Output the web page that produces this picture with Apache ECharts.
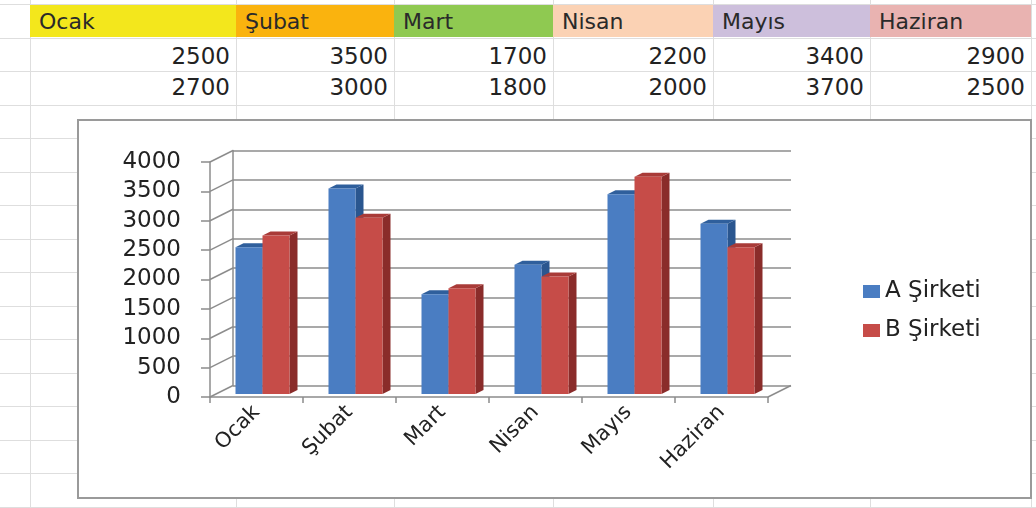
<!DOCTYPE html>
<html>
<head>
<meta charset="utf-8">
<script src="https://cdn.jsdelivr.net/npm/echarts@6/dist/echarts.min.js"></script>
<style>
    body { margin: 0; background: #fff; font-family: "DejaVu Sans", sans-serif; }
    #sheet { position: absolute; left: 0; top: 0; width: 1036px; height: 508px; overflow: hidden; }
    .hline { position: absolute; left: 0; width: 1036px; height: 1px; background: #dedede; }
    .vline { position: absolute; top: 0; width: 1px; height: 508px; background: #dedede; }
    .head { position: absolute; top: 5px; height: 32px; line-height: 33px; font-size: 22px; color: #2a2a2a; padding-left: 9px; box-sizing: border-box; }
    .num { position: absolute; height: 32px; line-height: 32px; font-size: 23px; color: #222; text-align: right; padding-right: 6px; box-sizing: border-box; }
    #box { position: absolute; left: 77px; top: 119px; width: 951px; height: 376px; background: #fff; border: 2px solid #9a9a9a; }
    #main { position: absolute; left: 0; top: 0; width: 1036px; height: 508px; }
</style>
</head>
<body>
<div id="sheet"></div>
<div id="box"></div>
<div id="main"></div>
<script>
// 数据
const months = ['Ocak', 'Şubat', 'Mart', 'Nisan', 'Mayıs', 'Haziran'];
const companyA = [2500, 3500, 1700, 2200, 3400, 2900];
const companyB = [2700, 3000, 1800, 2000, 3700, 2500];
const seriesNames = ['A Şirketi', 'B Şirketi'];
const yTicks = [0, 500, 1000, 1500, 2000, 2500, 3000, 3500, 4000];
const headColors = ['#f3e71c', '#fab30e', '#8fc951', '#fbd2b4', '#cdbfdc', '#e9b3b1'];

/**
 * 表格背景
 */
function buildSheet() {
    const sheet = document.getElementById('sheet');
    const colX = [30, 236, 394, 553, 713, 870, 1031];
    let html = '';
    for (let y = 4; y < 508; y += 33.5) {
        html += `<div class="hline" style="top:${Math.round(y)}px"></div>`;
    }
    colX.forEach(x => {
        html += `<div class="vline" style="left:${x}px"></div>`;
    });
    months.forEach((m, i) => {
        const l = colX[i], w = colX[i + 1] - colX[i];
        html += `<div class="head" style="left:${l}px;width:${w}px;background:${headColors[i]}">${m}</div>`;
        html += `<div class="num" style="left:${l}px;width:${w}px;top:40px">${companyA[i]}</div>`;
        html += `<div class="num" style="left:${l}px;width:${w}px;top:71px">${companyB[i]}</div>`;
    });
    sheet.innerHTML = html;
}
buildSheet();

const chart = echarts.init(document.getElementById('main'), null, { renderer: 'canvas' });

// 透视偏移
const wallDx = 23, wallDy = -11.5;
const barW = 27, barDx = 8, barDy = -4, barShiftX = 6, barShiftY = -3;

const faceColors = [
    { front: '#4a7dc2', top: '#2f5f9c', side: '#2a568f' },
    { front: '#c64c48', top: '#a93b38', side: '#8a2c2a' }
];

function barRenderer(idx) {
    return function (params, api) {
        const c = api.coord([api.value(0), api.value(1)]);
        const base = api.coord([api.value(0), 0]);
        const x0 = c[0] + barShiftX - barW + idx * barW;
        const yTop = c[1] + barShiftY;
        const yBot = base[1] + barShiftY;
        const col = faceColors[idx];
        return {
            type: 'group',
            children: [
                {
                    type: 'polygon',
                    shape: { points: [[x0 + barW, yTop], [x0 + barW + barDx, yTop + barDy], [x0 + barW + barDx, yBot + barDy], [x0 + barW, yBot]] },
                    style: { fill: col.side }
                },
                {
                    type: 'polygon',
                    shape: { points: [[x0, yTop], [x0 + barW, yTop], [x0 + barW + barDx, yTop + barDy], [x0 + barDx, yTop + barDy]] },
                    style: { fill: col.top }
                },
                {
                    type: 'rect',
                    shape: { x: x0, y: yTop, width: barW, height: yBot - yTop },
                    style: { fill: col.front }
                }
            ]
        };
    };
}

// 左侧墙与地板斜线
function wallRenderer(params, api) {
    const p = api.coord([0, api.value(1)]);
    const band = api.size([1, 0])[0];
    const xl = p[0] - band / 2;
    const children = [{
        type: 'line',
        shape: { x1: xl, y1: p[1], x2: xl + wallDx, y2: p[1] + wallDy },
        style: { stroke: '#8c8c8c', lineWidth: 1.5 }
    }];
    if (api.value(1) === 0) {
        const q = api.coord([months.length - 1, 0]);
        const xr = q[0] + band / 2;
        children.push({
            type: 'line',
            shape: { x1: xr, y1: q[1], x2: xr + wallDx, y2: q[1] + wallDy },
            style: { stroke: '#8c8c8c', lineWidth: 1.5 }
        });
    }
    return { type: 'group', children };
}

const option = {
    backgroundColor: 'transparent',
    animation: false,
    grid: [
        { left: 210, right: 268, top: 162, bottom: 111 },
        { left: 233, right: 245, top: 150.5, bottom: 122.5 }
    ],
    legend: {
        orient: 'vertical',
        left: 858,
        top: 275,
        itemWidth: 17,
        itemHeight: 13,
        itemGap: 16,
        icon: 'rect',
        data: seriesNames,
        textStyle: { fontSize: 23, color: '#222', fontFamily: 'DejaVu Sans' }
    },
    xAxis: [
        {
            type: 'category',
            gridIndex: 0,
            data: months,
            axisLine: { lineStyle: { color: '#8c8c8c', width: 1.5 } },
            axisTick: { show: true, length: 6, lineStyle: { color: '#8c8c8c', width: 1.5 } },
            axisLabel: { rotate: 45, fontSize: 21, color: '#222', margin: 12, fontFamily: 'DejaVu Sans' }
        },
        {
            type: 'category',
            gridIndex: 1,
            data: months,
            show: false
        }
    ],
    yAxis: [
        {
            type: 'value',
            gridIndex: 0,
            min: 0,
            max: 4000,
            interval: 500,
            axisLine: { show: true, lineStyle: { color: '#8c8c8c', width: 1.5 } },
            axisTick: { show: true, length: 9, lineStyle: { color: '#8c8c8c', width: 1.5 } },
            axisLabel: {
                fontSize: 23,
                color: '#222',
                margin: 29,
                fontFamily: 'DejaVu Sans',
                formatter: v => String(v)
            },
            splitLine: { show: false }
        },
        {
            type: 'value',
            gridIndex: 1,
            min: 0,
            max: 4000,
            interval: 500,
            axisLine: { show: true, lineStyle: { color: '#8c8c8c', width: 1.5 } },
            axisTick: { show: false },
            axisLabel: { show: false },
            splitLine: { show: true, lineStyle: { color: '#8c8c8c', width: 1.5 } }
        }
    ],
    series: [
        {
            type: 'custom',
            name: 'wall',
            xAxisIndex: 0,
            yAxisIndex: 0,
            silent: true,
            renderItem: wallRenderer,
            data: yTicks.map(v => [0, v])
        },
        {
            type: 'custom',
            name: seriesNames[0],
            xAxisIndex: 0,
            yAxisIndex: 0,
            itemStyle: { color: faceColors[0].front },
            renderItem: barRenderer(0),
            encode: { x: 0, y: 1 },
            data: companyA.map((v, i) => [i, v])
        },
        {
            type: 'custom',
            name: seriesNames[1],
            xAxisIndex: 0,
            yAxisIndex: 0,
            itemStyle: { color: faceColors[1].front },
            renderItem: barRenderer(1),
            encode: { x: 0, y: 1 },
            data: companyB.map((v, i) => [i, v])
        }
    ]
};

chart.setOption(option);
</script>
</body>
</html>
